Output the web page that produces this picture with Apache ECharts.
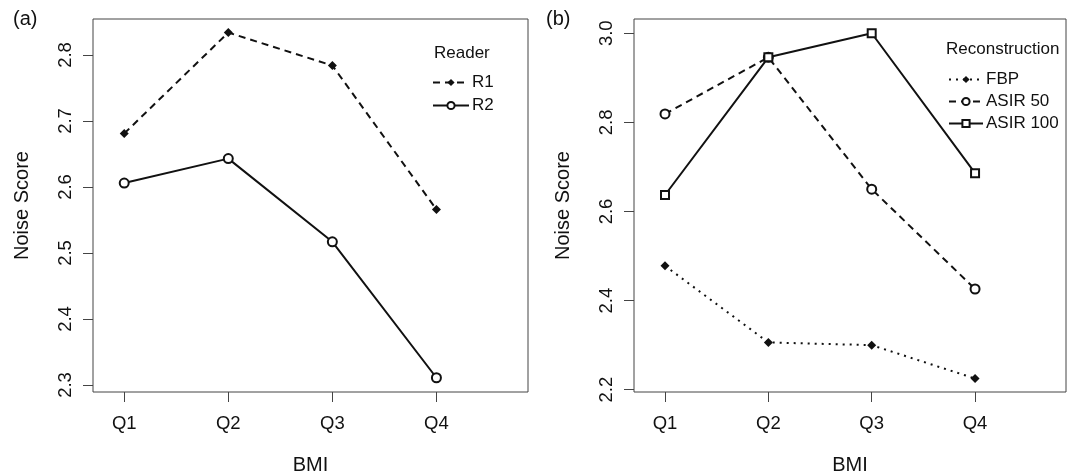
<!DOCTYPE html>
<html>
<head>
<meta charset="utf-8">
<script src="https://cdn.jsdelivr.net/npm/echarts@6/dist/echarts.min.js"></script>
<style>
  html, body { margin: 0; padding: 0; background: #fff; }
  #chart { width: 1067px; height: 475px; }
</style>
</head>
<body>
<div id="chart"></div>
<script>
// BMI quartiles on the x axis
const bmi = ['Q1', 'Q2', 'Q3', 'Q4'];

// (a) noise score by reader
const r1 = [2.681, 2.834, 2.784, 2.566];
const r2 = [2.606, 2.643, 2.517, 2.311];
const ticksA = [2.3, 2.4, 2.5, 2.6, 2.7, 2.8];

// (b) noise score by reconstruction
const fbp = [2.478, 2.306, 2.300, 2.225];
const asir50 = [2.819, 2.946, 2.650, 2.426];
const asir100 = [2.637, 2.946, 3.000, 2.686];
const ticksB = [2.2, 2.4, 2.6, 2.8, 3.0];

const FONT = 'Liberation Sans, Arial, Helvetica, sans-serif';
const INK = '#111';

const pts = arr => arr.map((v, i) => [i + 1, v]);

function xAxis(gridIndex) {
  return {
    type: 'value', gridIndex, min: 0.7, max: 4.88,
    name: 'BMI', nameLocation: 'middle', nameGap: 63,
    nameTextStyle: { fontFamily: FONT, fontSize: 20, color: INK },
    axisLine: { show: false },
    splitLine: { show: false },
    axisTick: { show: true, inside: false, length: 10, customValues: [1, 2, 3, 4],
      lineStyle: { color: '#444', width: 1 } },
    axisLabel: { customValues: [1, 2, 3, 4], margin: 22, fontFamily: FONT, fontSize: 18.5, color: INK,
      formatter: v => bmi[Math.round(v) - 1] }
  };
}

function yAxis(gridIndex, min, max, ticks) {
  return {
    type: 'value', gridIndex, min, max,
    name: 'Noise Score', nameLocation: 'middle', nameGap: 61,
    nameTextStyle: { fontFamily: FONT, fontSize: 20, color: INK },
    axisLine: { show: false },
    splitLine: { show: false },
    axisTick: { show: true, inside: false, length: 10, customValues: ticks,
      lineStyle: { color: '#444', width: 1 } },
    axisLabel: { customValues: ticks, rotate: 90, margin: 18, fontFamily: FONT, fontSize: 18.5, color: INK,
      formatter: v => v.toFixed(1) }
  };
}

function line(name, data, idx, dash, symbol, size, filled) {
  return {
    name, type: 'line', xAxisIndex: idx, yAxisIndex: idx,
    data: pts(data),
    symbol, symbolSize: size, showAllSymbol: true,
    lineStyle: { color: INK, width: 2, type: dash },
    itemStyle: filled ? { color: INK, borderColor: INK, borderWidth: 0 }
                      : { color: '#fff', borderColor: INK, borderWidth: 2 },
    emphasis: { disabled: true },
    z: 3
  };
}

const chart = echarts.init(document.getElementById('chart'));
chart.setOption({
  animation: false,
  backgroundColor: '#fff',
  title: [
    { text: '(a)', left: 13, top: 9, padding: 0, textStyle: { fontFamily: FONT, fontSize: 20, fontWeight: 'normal', color: INK } },
    { text: '(b)', left: 546, top: 9, padding: 0, textStyle: { fontFamily: FONT, fontSize: 20, fontWeight: 'normal', color: INK } },
    { text: 'Reader', left: 434, top: 45, padding: 0, textStyle: { fontFamily: FONT, fontSize: 17, fontWeight: 'normal', color: INK } },
    { text: 'Reconstruction', left: 946, top: 41, padding: 0, textStyle: { fontFamily: FONT, fontSize: 17, fontWeight: 'normal', color: INK } }
  ],
  legend: [
    { data: ['R1', 'R2'], orient: 'vertical', left: 432, top: 74, padding: 0,
      itemWidth: 36, itemHeight: 9, itemGap: 6, selectedMode: false,
      textStyle: { fontFamily: FONT, fontSize: 17, color: INK, lineHeight: 14, padding: [0, 0, 0, -2] } },
    { data: ['FBP', 'ASIR 50', 'ASIR 100'], orient: 'vertical', left: 948, top: 71, padding: 0,
      itemWidth: 34, itemHeight: 9, itemGap: 5, selectedMode: false,
      textStyle: { fontFamily: FONT, fontSize: 17, color: INK, lineHeight: 14, padding: [0, 0, 0, -2] } }
  ],
  grid: [
    { left: 93, top: 19, width: 435, height: 373, outerBoundsMode: 'none', containLabel: false,
      show: true, borderColor: '#444', borderWidth: 1, backgroundColor: 'transparent' },
    { left: 634, top: 19, width: 432, height: 373, outerBoundsMode: 'none', containLabel: false,
      show: true, borderColor: '#444', borderWidth: 1, backgroundColor: 'transparent' }
  ],
  xAxis: [xAxis(0), xAxis(1)],
  yAxis: [yAxis(0, 2.2894, 2.8545, ticksA), yAxis(1, 2.1948, 3.032, ticksB)],
  series: [
    line('R1', r1, 0, [7, 5], 'diamond', 9, true),
    line('R2', r2, 0, 'solid', 'circle', 9, false),
    line('FBP', fbp, 1, [2, 5], 'diamond', 9, true),
    line('ASIR 50', asir50, 1, [7, 5], 'circle', 9, false),
    line('ASIR 100', asir100, 1, 'solid', 'rect', 8, false)
  ]
});
</script>
</body>
</html>
